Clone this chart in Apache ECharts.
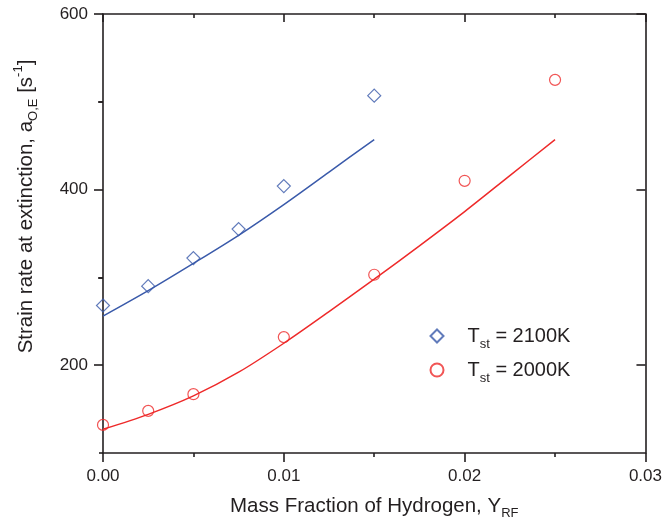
<!DOCTYPE html>
<html>
<head>
<meta charset="utf-8">
<script src="https://cdn.jsdelivr.net/npm/echarts@6/dist/echarts.min.js"></script>
<style>html,body{margin:0;padding:0;background:#fff}#c{width:665px;height:525px}</style>
</head>
<body>
<div id="c"></div>
<script>
// Measured points
var xBlue = [0, 0.0025, 0.005, 0.0075, 0.01, 0.015];
var yBlue = [268, 290, 322, 355, 404, 507];
var xRed = [0, 0.0025, 0.005, 0.01, 0.015, 0.02, 0.025];
var yRed = [132, 148, 167, 232, 303, 410, 525];
// Fitted curves
var xFitBlue = [0, 0.0025, 0.005, 0.0075, 0.01, 0.0125, 0.015];
var yFitBlue = [256, 285, 316, 348, 383, 420, 457];
var xFitRed = [0, 0.0025, 0.005, 0.0075, 0.01, 0.0125, 0.015, 0.0175, 0.02, 0.0225, 0.025];
var yFitRed = [127, 144, 165, 192, 225, 261, 298, 336, 375, 416, 457];
// Names and ticks
var nameBlue = 'T_st = 2100K';
var nameRed = 'T_st = 2000K';
var yMajorTicks = [200, 400, 600];
var yMinorTicksLeft = [100, 300, 500];
var yMinorTicksRight = [300, 500];

function pairs(xs, ys) { return xs.map(function (x, i) { return [x, ys[i]]; }); }

var axisColor = '#231f20';
var blue = '#3a5aaa';
var red = '#ee2a2a';
var font = 'Liberation Sans, Arial, sans-serif';

var chart = echarts.init(document.getElementById('c'), null, { renderer: 'canvas' });

var baseY = { type: 'value', min: 100, max: 600, interval: 100, splitLine: { show: false } };
function yAx(extra) { return Object.assign({}, baseY, extra); }

chart.setOption({
  animation: false,
  backgroundColor: '#fff',
  grid: { left: 103, right: 17, top: 14, bottom: 72, containLabel: false },
  textStyle: { fontFamily: font },
  legend: {
    orient: 'vertical',
    left: 424.5, top: 321,
    itemWidth: 13, itemHeight: 13,
    itemGap: 9,
    data: [nameBlue, nameRed],
    formatter: function (n) {
      var p = n.split('_');
      var rest = p[1].split(' ');
      return '{t|' + p[0] + '}{s|' + rest[0] + '}{t| ' + rest.slice(1).join(' ') + '}';
    },
    textStyle: {
      padding: [0, 0, 0, 19],
      rich: {
        t: { fontSize: 20, lineHeight: 30, color: axisColor, fontFamily: font, verticalAlign: 'middle' },
        s: { fontSize: 13, lineHeight: 13, color: axisColor, fontFamily: font, verticalAlign: 'bottom' }
      }
    }
  },
  xAxis: [
    {
      type: 'value', position: 'bottom', min: 0, max: 0.03, interval: 0.01,
      splitLine: { show: false },
      axisLine: { show: true, onZero: false, lineStyle: { color: axisColor, width: 1.6 } },
      axisTick: { show: true, inside: false, length: 9, lineStyle: { color: axisColor, width: 1.6 } },
      minorTick: { show: true, splitNumber: 2, length: 4, lineStyle: { color: axisColor, width: 1.6 } },
      axisLabel: { fontSize: 17, color: axisColor, margin: 15, fontFamily: font,
        formatter: function (v) { return v.toFixed(2); } },
      name: '{t|Mass Fraction of Hydrogen, Y}{s|RF}',
      nameLocation: 'middle', nameGap: 39,
      nameTextStyle: {
        rich: {
          t: { fontSize: 20.5, lineHeight: 28, color: axisColor, fontFamily: font, verticalAlign: 'middle' },
          s: { fontSize: 13, lineHeight: 13, color: axisColor, fontFamily: font, verticalAlign: 'bottom' }
        }
      }
    },
    {
      type: 'value', position: 'top', min: 0, max: 0.03, interval: 0.01,
      splitLine: { show: false },
      axisLine: { show: true, onZero: false, lineStyle: { color: axisColor, width: 1.6 } },
      axisTick: { show: true, inside: true, length: 8, lineStyle: { color: axisColor, width: 1.6 } },
      minorTick: { show: true, splitNumber: 2, length: 4, lineStyle: { color: axisColor, width: 1.6 } },
      axisLabel: { show: false }
    }
  ],
  yAxis: [
    yAx({
      position: 'left',
      axisLine: { show: true, onZero: false, lineStyle: { color: axisColor, width: 1.6 } },
      axisTick: { show: true, inside: false, length: 9, customValues: yMajorTicks, lineStyle: { color: axisColor, width: 1.6 } },
      axisLabel: { fontSize: 17, color: axisColor, margin: 15, fontFamily: font, customValues: yMajorTicks },
      name: '{t|Strain rate at extinction, a}{s|O,E}{t| [s}{u|-1}{t|]}',
      nameLocation: 'middle', nameRotate: 90, nameGap: 63,
      nameTextStyle: {
        padding: [0, 0, 0, 54],
        rich: {
          t: { fontSize: 20.5, lineHeight: 28, color: axisColor, fontFamily: font, verticalAlign: 'middle' },
          s: { fontSize: 13, lineHeight: 13, color: axisColor, fontFamily: font, verticalAlign: 'bottom' },
          u: { fontSize: 13, lineHeight: 13, color: axisColor, fontFamily: font, verticalAlign: 'top' }
        }
      }
    }),
    yAx({
      position: 'left',
      axisLine: { show: false },
      axisTick: { show: true, inside: false, length: 4, customValues: yMinorTicksLeft, lineStyle: { color: axisColor, width: 1.6 } },
      axisLabel: { show: false }
    }),
    yAx({
      position: 'right',
      axisLine: { show: true, onZero: false, lineStyle: { color: axisColor, width: 1.6 } },
      axisTick: { show: true, inside: true, length: 9, customValues: yMajorTicks, lineStyle: { color: axisColor, width: 1.6 } },
      axisLabel: { show: false }
    }),
    yAx({
      position: 'right',
      axisLine: { show: false },
      axisTick: { show: true, inside: true, length: 5, customValues: yMinorTicksRight, lineStyle: { color: axisColor, width: 1.6 } },
      axisLabel: { show: false }
    })
  ],
  series: [
    {
      name: nameBlue, type: 'scatter', symbol: 'diamond', symbolSize: 13,
      data: pairs(xBlue, yBlue),
      itemStyle: { color: 'rgba(255,255,255,0)', borderColor: blue, borderWidth: 1.2 },
      z: 3
    },
    {
      name: nameRed, type: 'scatter', symbol: 'circle', symbolSize: 11,
      data: pairs(xRed, yRed),
      itemStyle: { color: 'rgba(255,255,255,0)', borderColor: red, borderWidth: 1.2 },
      z: 3
    },
    {
      name: 'fitBlue', type: 'line', data: pairs(xFitBlue, yFitBlue), smooth: 0.3,
      showSymbol: false, symbol: 'none', lineStyle: { color: blue, width: 1.5 }, z: 2
    },
    {
      name: 'fitRed', type: 'line', data: pairs(xFitRed, yFitRed), smooth: 0.3,
      showSymbol: false, symbol: 'none', lineStyle: { color: red, width: 1.5 }, z: 2
    }
  ]
});
</script>
</body>
</html>
